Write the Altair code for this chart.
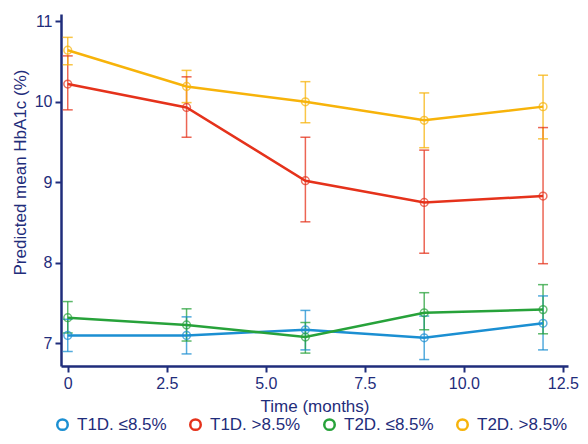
import altair as alt
import pandas as pd

groups = ["T1D. ≤8.5%", "T1D. >8.5%", "T2D. ≤8.5%", "T2D. >8.5%"]
colors = ["#1b8fd2", "#e5321b", "#27a23a", "#f7b30a"]
times = [0, 3, 6, 9, 12]

t1d_low_mean = [7.10, 7.10, 7.17, 7.07, 7.25]
t1d_low_lo = [6.90, 6.87, 6.92, 6.80, 6.92]
t1d_low_hi = [7.30, 7.33, 7.41, 7.34, 7.59]

t1d_high_mean = [10.22, 9.93, 9.02, 8.75, 8.83]
t1d_high_lo = [9.90, 9.56, 8.51, 8.12, 7.99]
t1d_high_hi = [10.57, 10.31, 9.56, 9.40, 9.68]

t2d_low_mean = [7.32, 7.23, 7.08, 7.38, 7.42]
t2d_low_lo = [7.13, 7.03, 6.88, 7.17, 7.12]
t2d_low_hi = [7.52, 7.43, 7.26, 7.63, 7.73]

t2d_high_mean = [10.64, 10.19, 10.00, 9.77, 9.94]
t2d_high_lo = [10.46, 9.99, 9.74, 9.43, 9.54]
t2d_high_hi = [10.80, 10.39, 10.25, 10.11, 10.33]

x_ticks = [0, 2.5, 5, 7.5, 10, 12.5]
y_ticks = [7, 8, 9, 10, 11]

series = [
    (groups[0], t1d_low_mean, t1d_low_lo, t1d_low_hi),
    (groups[1], t1d_high_mean, t1d_high_lo, t1d_high_hi),
    (groups[2], t2d_low_mean, t2d_low_lo, t2d_low_hi),
    (groups[3], t2d_high_mean, t2d_high_lo, t2d_high_hi),
]
rows = []
for g, m, lo, hi in series:
    for t, a, b, c in zip(times, m, lo, hi):
        rows.append({"group": g, "time": t, "mean": a, "lo": b, "hi": c})
df = pd.DataFrame(rows)

navy = "#1f2d7b"
font = "Liberation Sans"

xs = alt.X("time:Q", title="Time (months)",
           scale=alt.Scale(domain=[-0.17, 12.63], nice=False, zero=False),
           axis=alt.Axis(values=x_ticks,
                         labelExpr="datum.value == 0 ? '0' : format(datum.value, '.1f')"))
ys = alt.Y("mean:Q", title="Predicted mean HbA1c (%)",
           scale=alt.Scale(domain=[6.72, 11.09], nice=False, zero=False),
           axis=alt.Axis(values=y_ticks, format="d", titleY=158))

legend = alt.Legend(title=None, orient="none", legendX=-7, legendY=402,
                    direction="horizontal", columns=4, columnPadding=18,
                    symbolType="circle", symbolSize=110, symbolOpacity=1,
                    symbolStrokeWidth=2.5, symbolFillColor="white",
                    labelFontSize=17, labelColor=navy, labelFont=font,
                    labelOffset=6, padding=0)
col = alt.Color("group:N", scale=alt.Scale(domain=groups, range=colors),
                sort=groups, legend=legend)

base = alt.Chart(df)

rules = base.mark_rule(strokeWidth=1.5, opacity=0.75).encode(
    x=xs, y=alt.Y("lo:Q"), y2="hi:Q", color=col)
caps_lo = base.mark_point(shape="stroke", size=100, strokeWidth=1.5, opacity=0.75,
                          filled=False).encode(x="time:Q", y="lo:Q", color=col)
caps_hi = base.mark_point(shape="stroke", size=100, strokeWidth=1.5, opacity=0.75,
                          filled=False).encode(x="time:Q", y="hi:Q", color=col)
lines = base.mark_line(strokeWidth=2.5).encode(
    x=xs, y=ys, color=col, detail="group:N")
points = base.mark_point(shape="circle", filled=False, size=60, strokeWidth=1.5).encode(
    x=xs, y=ys, color=col)

chart = alt.layer(rules, caps_lo, caps_hi, lines, points).properties(
    width=507, height=352,
    autosize=alt.AutoSizeParams(type="none"),
    padding={"left": 53, "top": 6, "right": 12, "bottom": 70},
).configure_view(stroke=None).configure_axis(
    grid=False, domainColor=navy, domainWidth=2.5, tickColor=navy, tickWidth=2,
    tickSize=6, labelColor=navy, labelFont=font, labelFontSize=16, titleColor=navy,
    titleFont=font, titleFontSize=17, titleFontWeight="normal", labelPadding=3,
).configure_axisX(titlePadding=7).configure_axisY(titlePadding=5)

chart.save("out.html", embed_options={"renderer": "svg", "actions": False})
